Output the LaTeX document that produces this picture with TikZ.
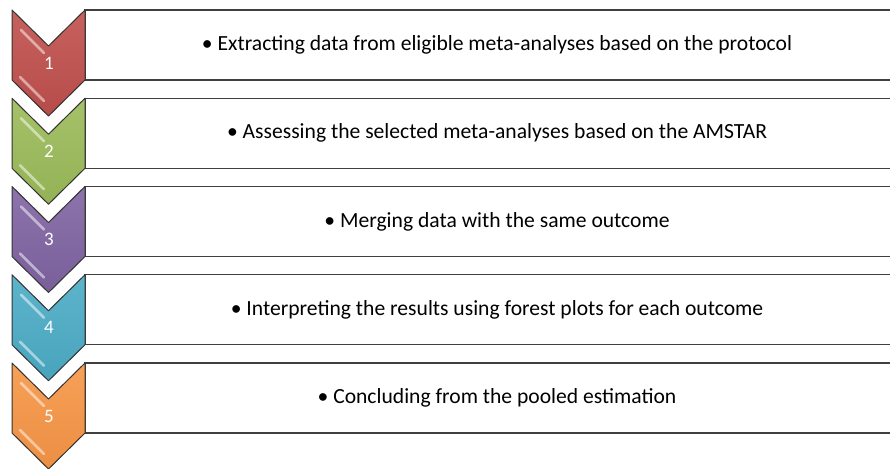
\documentclass[tikz,border=0pt]{standalone}
\usepackage{fontspec}
\setmainfont{Carlito}
\begin{document}
\begin{tikzpicture}[x=1pt,y=-1pt,
  chev/.style={draw=black!80,line width=1pt,line join=round},
  stepbox/.style={draw=black!75,line width=1.2pt,fill=white},
  numlbl/.style={text=white,font=\fontsize{19}{22}\selectfont},
  steptxt/.style={text=black,font=\fontsize{21.6}{26}\selectfont,anchor=center},
  hl/.style={line width=2.6pt,line cap=round,opacity=0.5}]
\useasboundingbox (0,0) rectangle (890,468);
\definecolor{cA}{HTML}{C0504D}
\definecolor{cB}{HTML}{9BBB59}
\definecolor{cC}{HTML}{8064A2}
\definecolor{cD}{HTML}{4BACC6}
\definecolor{cE}{HTML}{F79646}
\foreach \i/\c/\t in {
  1/cA/{Extracting data from eligible meta-analyses based on the protocol},
  2/cB/{Assessing the selected meta-analyses based on the AMSTAR},
  3/cC/{Merging data with the same outcome},
  4/cD/{Interpreting the results using forest plots for each outcome},
  5/cE/{Concluding from the pooled estimation}}{
  \pgfmathsetmacro{\yt}{10+88.25*(\i-1)}
  \draw[stepbox] (900,\yt) -- (85,\yt) -- (85,\yt+70) -- (900,\yt+70);
  \node[steptxt] (t\i) at (497,\yt+35) {\textbullet\ \t};
  \path[chev,top color=\c!90!white,bottom color=\c!95!black]
    (12,\yt) -- (48.5,\yt+36) -- (85,\yt) -- (85,\yt+70) -- (48.5,\yt+106) -- (12,\yt+70) -- cycle;
  \draw[hl,white] (21,\yt+20) -- (44,\yt+43);
  \draw[hl,white] (20,\yt+67) -- (44,\yt+91);
  \node[numlbl] (n\i) at (49,\yt+53) {\i};
}
\end{tikzpicture}
\end{document}
